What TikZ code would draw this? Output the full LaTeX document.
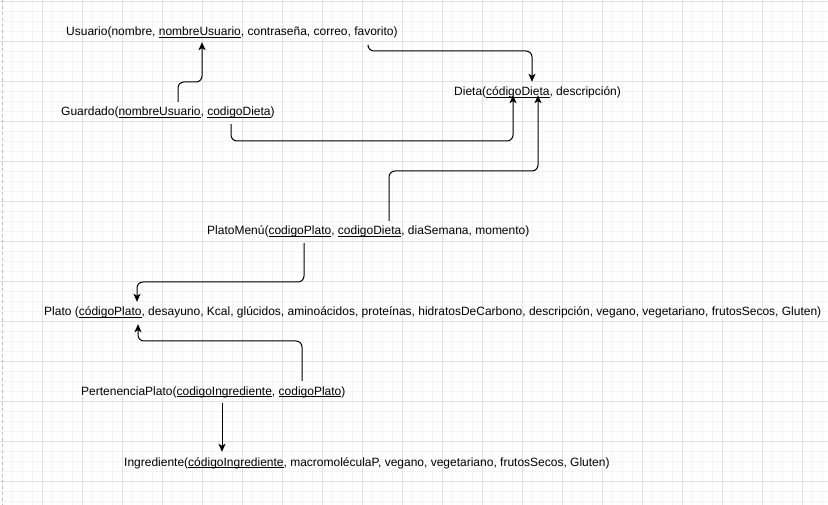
\documentclass[tikz,border=0pt]{standalone}
\usepackage{fontspec}
\setmainfont{Liberation Sans}
\usetikzlibrary{arrows.meta}
\definecolor{gridminor}{HTML}{F4F4F4}
\definecolor{gridmajor}{HTML}{E0E0E0}
\definecolor{pagebreak}{HTML}{BDBDBD}
% underlined key attribute
\newcommand{\pk}[1]{\setbox0\hbox{#1}\rlap{\rule[-1.9pt]{\wd0}{0.65pt}}\box0}
\tikzset{
  relation/.style={anchor=base west, inner xsep=0pt, inner ysep=5pt,
    text height=9pt, text depth=3pt, font=\fontsize{12pt}{14pt}\selectfont},
  conn/.style={draw=black, line width=1pt, rounded corners=6pt,
    -{Stealth[length=8pt,width=7pt,inset=2pt]}},
}
\begin{document}
\begin{tikzpicture}[x=1pt,y=-1pt]
\useasboundingbox (0,0) rectangle (828,505);
% background grid
\fill[white] (0,0) rectangle (828,505);
\foreach \x in {2,12,...,822} \draw[gridminor,line width=0.8pt] (\x,0) -- (\x,505);
\foreach \y in {1,11,...,501} \draw[gridminor,line width=0.8pt] (0,\y) -- (828,\y);
\foreach \x in {42,82,...,822} \draw[gridmajor,line width=0.8pt] (\x,0) -- (\x,505);
\foreach \y in {1,41,...,501} \draw[gridmajor,line width=0.8pt] (0,\y) -- (828,\y);
\draw[pagebreak,line width=1pt,dash pattern=on 3pt off 3pt] (2,0) -- (2,505);

% relations
\node[relation] (usu) at (66,36) {Usuario(nombre, \pk{nombreUsuario}, contraseña, correo, favorito)};
\node[relation] (gua) at (61,116) {Guardado(\pk{nombreUsuario}, \pk{codigoDieta})};
\node[relation] (die) at (454,96) {Dieta(\pk{códigoDieta}, descripción)};
\node[relation] (pme) at (207,235) {PlatoMenú(\pk{codigoPlato}, \pk{codigoDieta}, diaSemana, momento)};
\node[relation] (pla) at (44,316) {Plato (\pk{códigoPlato}, desayuno, Kcal, glúcidos, aminoácidos, proteínas, hidratosDeCarbono, descripción, vegano, vegetariano, frutosSecos, Gluten)};
\node[relation] (per) at (81,395) {PertenenciaPlato(\pk{codigoIngrediente}, \pk{codigoPlato})};
\node[relation] (ing) at (124,466) {Ingrediente(\pk{códigoIngrediente}, macromoléculaP, vegano, vegetariano, frutosSecos, Gluten)};

% foreign keys
\draw[conn] (gua.north -| 178,0) |- (202,82) -- ([yshift=2pt]usu.south -| 202,0);
\draw[conn] ([yshift=-3pt]usu.south -| 368,0) |- (532,51) -- (die.north -| 532,0);
\draw[conn] (gua.south -| 231,0) |- (513,141) -- ([yshift=9pt]die.south -| 513,0);
\draw[conn] (pme.north -| 389,0) |- (538,171) -- ([yshift=9pt]die.south -| 538,0);
\draw[conn] (pme.south -| 304,0) |- (137,282) -- (pla.north -| 137,0);
\draw[conn] (per.north -| 302,0) |- (138,341) -- (pla.south -| 138,0);
\draw[conn] (per.south -| 222,0) -- (ing.north -| 222,0);
\end{tikzpicture}
\end{document}
